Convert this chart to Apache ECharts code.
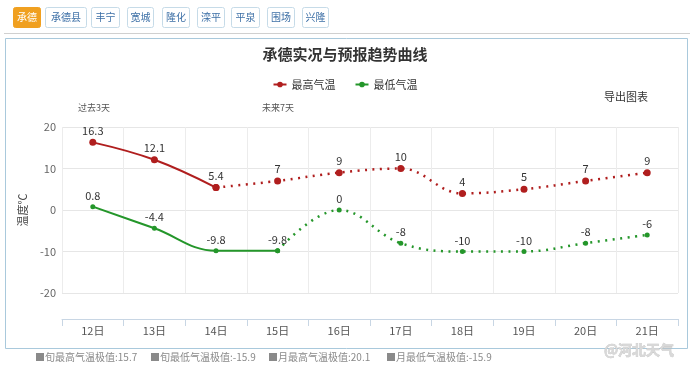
<!DOCTYPE html>
<html><head><meta charset="utf-8">
<script src="https://cdn.jsdelivr.net/npm/echarts@6/dist/echarts.min.js"></script>
<style>html,body{margin:0;padding:0;background:#fff}#c{width:690px;height:365px}</style>
</head><body><div id="c"></div>
<script>
const categories = ['12日','13日','14日','15日','16日','17日','18日','19日','20日','21日'];
const highTemps = [16.3, 12.1, 5.4, 7, 9, 10, 4, 5, 7, 9];
const lowTemps = [0.8, -4.4, -9.8, -9.8, 0, -8, -10, -10, -8, -6];
const highSolidCount = 3;
const lowSolidCount = 4;
const yTicks = [-20, -10, 0, 10, 20];
const stations = ['承德','承德县','丰宁','宽城','隆化','滦平','平泉','围场','兴隆'];
const footerLabels = ['旬最高气温极值','旬最低气温极值','月最高气温极值','月最低气温极值'];
const footerValues = ['15.7','-15.9','20.1','-15.9'];

const FONT = '"Noto Sans CJK SC", "Noto Sans", sans-serif';
const RED = '#b01e1e';
const GREEN = '#24962a';

function makeSeries(name, values, solidCount, color, symSize) {
  const lbl = {show: true, position: 'top', distance: 3, fontSize: 11, color: '#333', fontFamily: FONT};
  const past = values.map((v, i) => i < solidCount ? v : '-');
  const future = values.map((v, i) => i >= solidCount - 1 ? {value: v, label: {show: i >= solidCount}} : '-');
  return [
    {name, type: 'line', smooth: 0.4, data: past, symbol: 'circle', symbolSize: symSize,
     itemStyle: {color}, lineStyle: {color, width: 2}, label: lbl, z: 3},
    {name, type: 'line', smooth: 0.4, data: future, symbol: 'circle', symbolSize: symSize,
     itemStyle: {color}, lineStyle: {color, width: 2.5, type: [2, 5.5], cap: 'butt'}, label: lbl, z: 2}
  ];
}

// buttons
const btnX = [13, 45, 91, 127, 162, 197, 231, 267, 302];
const btnW = [27, 41, 28, 26, 27, 27, 28, 27, 26];
const graphics = [];
graphics.push({type: 'line', shape: {x1: 4, y1: 33.5, x2: 690, y2: 33.5}, style: {stroke: '#d0d0d0', lineWidth: 1}});
stations.forEach((s, i) => {
  const sel = i === 0;
  graphics.push({type: 'rect', shape: {x: btnX[i] + 0.5, y: 7.5, width: btnW[i], height: 20, r: 2},
    style: {fill: sel ? '#f0a020' : '#fff', stroke: sel ? '#f0a020' : '#c6dbe8', lineWidth: 1}});
  graphics.push({type: 'text', x: btnX[i] + 0.5 + btnW[i] / 2, y: 17.5,
    style: {text: s, fill: sel ? '#fff' : '#3c6fa6', font: '10px ' + FONT, align: 'center', verticalAlign: 'middle'}});
});
graphics.push({type: 'rect', shape: {x: 5.5, y: 38.5, width: 682, height: 310},
  style: {fill: 'none', stroke: '#a9c9dc', lineWidth: 1}, z: -10});
graphics.push({type: 'text', x: 78, y: 108, style: {text: '过去3天', fill: '#555', font: '9px ' + FONT, verticalAlign: 'middle'}});
graphics.push({type: 'text', x: 262, y: 108, style: {text: '未来7天', fill: '#555', font: '9px ' + FONT, verticalAlign: 'middle'}});
graphics.push({type: 'text', x: 604, y: 97, style: {text: '导出图表', fill: '#333', font: '11px ' + FONT, verticalAlign: 'middle'}});
const footX = [35, 150, 268, 386];
footerLabels.forEach((t, i) => {
  graphics.push({type: 'text', x: footX[i], y: 357, style: {text: '■' + t + ':' + footerValues[i], fill: '#8a8a8a', font: '10px ' + FONT, verticalAlign: 'middle'}});
});
graphics.push({type: 'text', x: 604, y: 350, style: {text: '@河北天气', fill: '#d8d8d8', stroke: '#bdbdbd', lineWidth: 0.5, font: 'bold 14px ' + FONT, verticalAlign: 'middle'}});

const chart = echarts.init(document.getElementById('c'), null, {renderer: 'canvas'});
chart.setOption({
  animation: false,
  backgroundColor: '#fff',
  textStyle: {fontFamily: FONT},
  title: {text: '承德实况与预报趋势曲线', left: 'center', top: 42,
    textStyle: {fontSize: 15, fontWeight: 'bold', color: '#333', fontFamily: FONT}},
  legend: {data: ['最高气温', '最低气温'], top: 74, left: 'center', itemWidth: 13, itemHeight: 7, itemGap: 19,
    textStyle: {fontSize: 11, color: '#333', fontFamily: FONT}},
  grid: {left: 62, right: 12, top: 127, bottom: 72},
  xAxis: {type: 'category', data: categories, boundaryGap: true, offset: 26,
    axisLine: {onZero: false, lineStyle: {color: '#c8d6e4'}},
    axisTick: {show: true, length: 7, lineStyle: {color: '#c8d6e4'}},
    splitLine: {show: true, lineStyle: {color: '#ececec'}},
    axisLabel: {fontSize: 11, color: '#555', margin: 6, fontFamily: FONT}},
  yAxis: {type: 'value', min: yTicks[0], max: yTicks[yTicks.length - 1], interval: 10,
    name: '温度℃', nameLocation: 'middle', nameGap: 34, nameRotate: 90,
    nameTextStyle: {fontSize: 11, color: '#444', fontFamily: FONT},
    axisLine: {show: false}, axisTick: {show: false},
    splitLine: {lineStyle: {color: '#e6e6e6'}},
    axisLabel: {fontSize: 11, color: '#666', margin: 6, fontFamily: FONT}},
  series: [
    ...makeSeries('最高气温', highTemps, highSolidCount, RED, 7),
    ...makeSeries('最低气温', lowTemps, lowSolidCount, GREEN, 5)
  ],
  graphic: graphics
});
</script></body></html>
